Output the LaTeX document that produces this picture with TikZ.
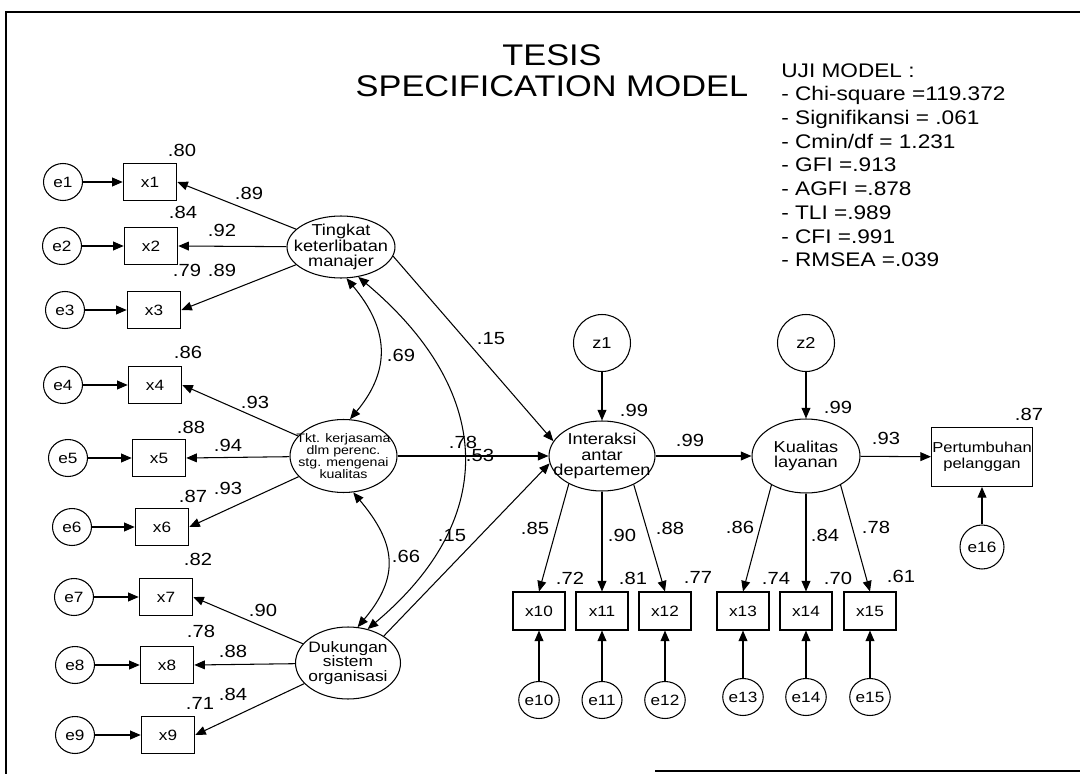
\documentclass[tikz,border=0pt]{standalone}
\usepackage{fontspec}
\setmainfont[FakeStretch=1.15]{Liberation Sans}
\usetikzlibrary{arrows.meta,shapes.geometric}
\tikzset{
	obs/.style={draw,line width=0.6pt,rectangle,minimum width=1.07cm,minimum height=0.74cm,inner sep=0pt,font=\fontsize{8.5}{9}\selectfont},
	err/.style={draw,line width=0.6pt,ellipse,minimum width=0.78cm,minimum height=0.74cm,inner sep=0pt,font=\fontsize{8.5}{9}\selectfont},
	lat/.style={draw,line width=0.6pt,ellipse,inner sep=0pt},
	lbl/.style={align=center,inner sep=0pt},
	arr/.style={-{Triangle[length=6pt,width=5pt]},line width=0.6pt},
	cov/.style={{Triangle[length=6pt,width=5pt]}-{Triangle[length=6pt,width=5pt]},line width=0.6pt},
	coef/.style={inner sep=0pt,font=\fontsize{10}{10}\selectfont}
}
\begin{document}
\begin{tikzpicture}[x=0.02cm,y=-0.02cm]%MODEL SEM TESIS
		\useasboundingbox (0,0) rectangle (1080,774);
		\draw[line width=1.1pt] (6,774)--(6,12)--(1080,12);
		\draw[line width=0.9pt] (655,771)--(1080,771);
		\node[lbl,font=\fontsize{17}{17.6}\selectfont] (judul) at (552,71) {TESIS\\SPECIFICATION MODEL};
		\node[anchor=north west,align=left,inner sep=0pt,font=\fontsize{11.2}{13.5}\selectfont] (uji) at (781,63)
		{UJI MODEL :\\- Chi-square =119.372\\- Signifikansi = .061\\- Cmin/df = 1.231\\- GFI =.913\\- AGFI =.878\\- TLI =.989\\- CFI =.991\\- RMSEA =.039};
		% indikator eksogen
		\foreach \i/\ex/\xx/\y in {1/63/150/182,2/62/151/246,3/65/154/310,4/63/155/385,5/68/159/458,6/72/162/527,7/74/166/597,8/75/167/665,9/75/168/735}
		{
		\node[err] (e\i) at (\ex,\y) {e\i};
		\node[obs] (x\i) at (\xx,\y) {x\i};
		\draw[arr] (e\i)--(x\i);
		}
		% variabel laten
		\node[lat,minimum width=2.16cm,minimum height=1.24cm] (tingkat) at (341,247) {};
		\node[lbl,font=\fontsize{9}{8.6}\selectfont] (tingkat-t) at (tingkat) {Tingkat\\keterlibatan\\manajer};
		\node[lat,minimum width=2.14cm,minimum height=1.46cm] (tkt) at (343.5,456) {};
		\node[lbl,font=\fontsize{7}{6.7}\selectfont] (tkt-t) at (tkt) {Tkt. kerjasama\\dlm perenc.\\stg. mengenai\\kualitas};
		\node[lat,minimum width=2.1cm,minimum height=1.44cm] (dukungan) at (348,663) {};
		\node[lbl,font=\fontsize{8.6}{8.3}\selectfont] (dukungan-t) at (dukungan) {Dukungan\\sistem\\organisasi};
		\node[lat,minimum width=2.12cm,minimum height=1.4cm] (interaksi) at (602,456) {};
		\node[lbl,font=\fontsize{9}{9}\selectfont] (interaksi-t) at (interaksi) {Interaksi\\antar\\departemen};
		\node[lat,minimum width=2.16cm,minimum height=1.48cm] (kualitas) at (806,456) {};
		\node[lbl,font=\fontsize{9}{9}\selectfont] (kualitas-t) at (kualitas) {Kualitas\\layanan};
		\node[draw,line width=0.6pt,lbl,minimum width=2.02cm,minimum height=1.18cm,font=\fontsize{8.2}{9}\selectfont] (pertumbuhan) at (982,457) {Pertumbuhan\\pelanggan};
		\node[draw,line width=0.6pt,circle,minimum size=1.14cm,inner sep=0pt,font=\fontsize{9}{9}\selectfont] (z1) at (602,343) {z1};
		\node[draw,line width=0.6pt,circle,minimum size=1.14cm,inner sep=0pt,font=\fontsize{9}{9}\selectfont] (z2) at (806,343) {z2};
		% indikator endogen
		\foreach \i/\xx/\y in {10/539/700,11/602/700,12/665/700,13/743/697,14/806/697,15/870/697}
		{
		\node[obs,minimum width=1.04cm,minimum height=0.76cm] (x\i) at (\xx,611) {x\i};
		\node[err,minimum width=0.8cm,minimum height=0.74cm] (e\i) at (\xx,\y) {e\i};
		\draw[arr] (e\i)--(x\i);
		}
		\node[err,minimum width=0.88cm,minimum height=0.88cm] (e16) at (982,547) {e16};
		% loading faktor
		\foreach \a/\b in {tingkat/x1,tingkat/x2,tingkat/x3,tkt/x4,tkt/x5,tkt/x6,dukungan/x7,dukungan/x8,dukungan/x9}
		\draw[arr] (\a)--(\b.east);
		\draw[arr] (interaksi.-140)--(x10.north);
		\draw[arr] (interaksi)--(x11);
		\draw[arr] (interaksi.-42)--(x12.north);
		\draw[arr] (kualitas.-140)--(x13.north);
		\draw[arr] (kualitas)--(x14);
		\draw[arr] (kualitas.-40)--(x15.north);
		% jalur struktural
		\draw[arr] (tingkat.-10)--(interaksi.163);
		\draw[arr] (tkt)--(interaksi);
		\draw[arr] (dukungan.37)--(interaksi.188);
		\draw[arr] (z1)--(interaksi);
		\draw[arr] (z2)--(kualitas);
		\draw[arr] (interaksi)--(kualitas);
		\draw[arr] (kualitas)--(pertumbuhan);
		\draw[arr] (e16)--(pertumbuhan);
		% korelasi
		\draw[cov] (tingkat.-80) to[out=-50,in=50,looseness=1.18] (tkt.80);
		\draw[cov] (tkt.-75) to[out=-50,in=50,looseness=1.26] (dukungan.75);
		\draw[cov] (tingkat.-60) to[out=-40,in=40,looseness=1.27] (dukungan.60);
		% koefisien
		\foreach \nilai/\px/\py [count=\k] in {.80/182/150,.84/183/212,.79/187/270,.89/249/193,.92/222/230,.89/222/270,
		.86/188/352,.93/255/402,.88/191/427,.94/228/445,.87/193/496,.93/228/488,
		.82/198/559,.90/263/610,.78/201/631,.88/233/651,.71/200/703,.84/233/694,
		.69/401/355,.78/463/442,.53/480/455,.66/406/556,.15/491/339,.15/452/536,
		.99/634/410,.99/838/407,.99/690/440,.93/886/438,.87/1029/414,
		.85/535/528,.90/622/535,.88/670/528,.86/740/527,.84/825/535,.78/876/527,
		.72/570/578,.81/633/578,.77/698/577,.74/776/578,.70/838/578,.61/901/576}
		\node[coef] (k\k) at (\px,\py) {\nilai};
		\end{tikzpicture}
\end{document}
